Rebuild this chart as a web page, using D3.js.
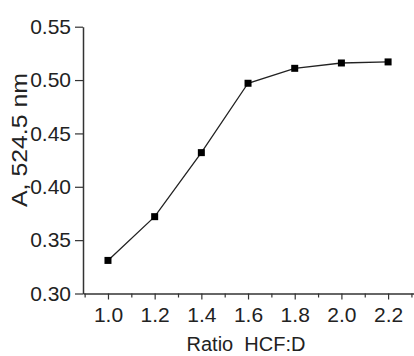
<!DOCTYPE html>
<html>
<head>
<meta charset="utf-8">
<script src="https://cdn.jsdelivr.net/npm/d3@7"></script>
<style>
  body { margin: 0; background: #fff; }
  svg text { font-family: "Liberation Sans", Arial, sans-serif; fill: #222; }
</style>
</head>
<body>
<svg id="chart" width="414" height="356"></svg>
<script>
// data
var ratios = [1.0, 1.2, 1.4, 1.6, 1.8, 2.0, 2.2];
var absorbance = [0.331, 0.372, 0.432, 0.497, 0.511, 0.516, 0.517];
var xTicks = [1.0, 1.2, 1.4, 1.6, 1.8, 2.0, 2.2];
var xMinorTicks = [0.9, 1.1, 1.3, 1.5, 1.7, 1.9, 2.1, 2.3];
var yTicks = [0.30, 0.35, 0.40, 0.45, 0.50, 0.55];

var svg = d3.select("#chart");

var x = d3.scaleLinear().domain([0.893, 2.311]).range([83, 414]);
var y = d3.scaleLinear().domain([0.30, 0.55]).range([293.5, 26.7]);

// x axis, minor ticks first
svg.append("g")
  .attr("transform", "translate(0," + y(0.30) + ")")
  .call(d3.axisBottom(x).tickValues(xMinorTicks).tickSize(4).tickFormat(""))
  .call(g => g.select(".domain").remove())
  .selectAll("line").attr("stroke", "#333").attr("stroke-width", 1.2);

var xAxis = svg.append("g")
  .attr("transform", "translate(0," + y(0.30) + ")")
  .call(d3.axisBottom(x).tickValues(xTicks).tickSize(6).tickSizeOuter(0).tickPadding(7.5)
    .tickFormat(d3.format(".1f")));
xAxis.select(".domain").attr("stroke", "#333").attr("stroke-width", 1.5);
xAxis.selectAll("line").attr("stroke", "#333").attr("stroke-width", 1.2);
xAxis.selectAll("text").style("font-size", "21px");

var yAxis = svg.append("g")
  .attr("transform", "translate(" + x.range()[0] + ",0)")
  .call(d3.axisLeft(y).tickValues(yTicks).tickSize(8).tickSizeOuter(0).tickPadding(4)
    .tickFormat(d3.format(".2f")));
yAxis.select(".domain").attr("stroke", "#333").attr("stroke-width", 1.5);
yAxis.selectAll("line").attr("stroke", "#333").attr("stroke-width", 1.2);
yAxis.selectAll("text").style("font-size", "21px");

// curve
var pts = ratios.map((r, i) => [r, absorbance[i]]);
svg.append("path")
  .datum(pts)
  .attr("fill", "none")
  .attr("stroke", "#222")
  .attr("stroke-width", 1.3)
  .attr("d", d3.line().x(d => x(d[0])).y(d => y(d[1])));

svg.selectAll(".pt")
  .data(pts)
  .enter().append("rect")
  .attr("class", "pt")
  .attr("x", d => x(d[0]) - 3.5)
  .attr("y", d => y(d[1]) - 3.5)
  .attr("width", 7)
  .attr("height", 7)
  .attr("fill", "#000");

// axis titles
svg.append("text")
  .attr("x", 246)
  .attr("y", 351)
  .attr("text-anchor", "middle")
  .style("font-size", "20px")
  .attr("xml:space", "preserve")
  .text("Ratio  HCF:D");

svg.append("text")
  .attr("transform", "translate(27,140) rotate(-90)")
  .attr("text-anchor", "middle")
  .style("font-size", "22px")
  .attr("textLength", 134)
  .attr("lengthAdjust", "spacingAndGlyphs")
  .text("A, 524.5 nm");
</script>
</body>
</html>
